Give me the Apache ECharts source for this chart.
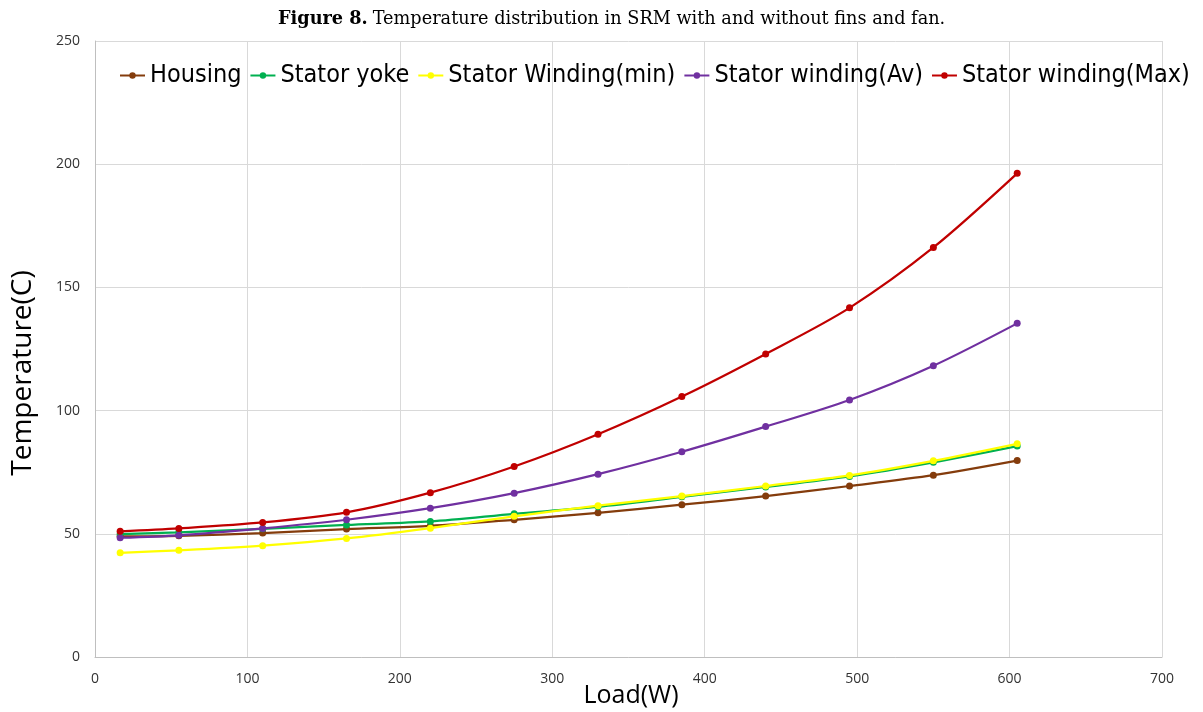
<!DOCTYPE html>
<html>
<head>
<meta charset="utf-8">
<script src="https://cdn.jsdelivr.net/npm/echarts@6/dist/echarts.min.js"></script>
<style>
html,body{margin:0;padding:0;background:#fff;overflow:hidden;}
#chart{width:1203px;height:712px;}
</style>
</head>
<body>
<div id="chart"></div>
<script>
var loads = [16.5, 55, 110, 165, 220, 275, 330, 385, 440, 495, 550, 605];
var housing = [49.0, 49.2, 50.3, 51.9, 53.2, 55.7, 58.5, 61.8, 65.3, 69.4, 73.8, 79.7];
var statorYoke = [49.9, 50.6, 52.0, 53.6, 55.0, 58.1, 61.0, 65.0, 69.0, 73.3, 79.0, 85.6];
var windingMin = [42.3, 43.3, 45.2, 48.1, 52.3, 57.1, 61.4, 65.3, 69.4, 73.7, 79.6, 86.5];
var windingAv = [48.4, 49.4, 52.2, 55.7, 60.4, 66.5, 74.2, 83.3, 93.5, 104.3, 118.2, 135.4];
var windingMax = [51.0, 52.2, 54.6, 58.7, 66.7, 77.3, 90.4, 105.7, 123.0, 141.7, 166.2, 196.3];
var xTicks = [0, 100, 200, 300, 400, 500, 600, 700];
var yTicks = [0, 50, 100, 150, 200, 250];

var seriesNames = ['Housing', 'Stator yoke', 'Stator Winding(min)', 'Stator winding(Av)', 'Stator winding(Max)'];
var seriesData = [housing, statorYoke, windingMin, windingAv, windingMax];
var colors = ['#843c0c', '#00b050', '#ffff00', '#7030a0', '#c00000'];

function pairs(arr) {
  return loads.map(function (x, i) { return [x, arr[i]]; });
}

var chart = echarts.init(document.getElementById('chart'));
var legendFont = "'Liberation Sans Narrow', 'DejaVu Sans Condensed', 'Roboto', sans-serif";
var serifFont = "'DejaVu Serif', 'Liberation Serif', serif";
var option = {
  animation: false,
  backgroundColor: '#ffffff',
  title: {
    text: '{b|Figure 8.} {r|Temperature distribution in SRM with and without fins and fan.}',
    left: 273,
    top: 5,
    textStyle: {
      fontWeight: 'normal',
      rich: {
        b: { fontFamily: serifFont, fontWeight: 'bold', fontSize: 17.7, color: '#000' },
        r: { fontFamily: serifFont, fontWeight: 'normal', fontSize: 17.7, color: '#000' }
      }
    }
  },
  legend: {
    top: 58,
    left: 114,
    itemGap: 8,
    itemWidth: 25,
    itemHeight: 8,
    textStyle: { fontFamily: legendFont, fontSize: 25, color: '#000' },
    data: seriesNames
  },
  graphic: [{
    type: 'text',
    x: 23,
    y: 373,
    rotation: Math.PI / 2,
    style: {
      text: 'Temperature(C)',
      font: "28px 'Open Sans', sans-serif",
      fill: '#000',
      align: 'center',
      verticalAlign: 'middle'
    }
  }, {
    type: 'text',
    x: 631,
    y: 696,
    style: {
      text: 'Load(W)',
      font: "25px 'Open Sans', sans-serif",
      fill: '#000',
      align: 'center',
      verticalAlign: 'middle'
    }
  }],
  grid: { left: 95, right: 41, top: 41, bottom: 55, containLabel: false, outerBoundsMode: 'none' },
  xAxis: {
    type: 'value',
    min: 0, max: 700, interval: 100,
    axisLine: { show: true, lineStyle: { color: '#bfbfbf', width: 1 } },
    axisTick: { show: false },
    axisLabel: { fontFamily: "'Open Sans', sans-serif", fontSize: 14, color: '#333', margin: 15,
      formatter: function (v) { return xTicks.indexOf(v) >= 0 ? String(v) : ''; } },
    splitLine: { show: true, lineStyle: { color: '#d9d9d9', width: 1 } }
  },
  yAxis: {
    type: 'value',
    min: 0, max: 250, interval: 50,
    axisLine: { show: true, lineStyle: { color: '#bfbfbf', width: 1 } },
    axisTick: { show: false },
    axisLabel: { fontFamily: "'Open Sans', sans-serif", fontSize: 14, color: '#333', margin: 15,
      formatter: function (v) { return yTicks.indexOf(v) >= 0 ? String(v) : ''; } },
    splitLine: { show: true, lineStyle: { color: '#d9d9d9', width: 1 } }
  },
  series: seriesNames.map(function (name, i) {
    return {
      name: name,
      type: 'line',
      smooth: 0.3,
      data: pairs(seriesData[i]),
      symbol: 'circle',
      symbolSize: 7,
      lineStyle: { color: colors[i], width: 2.25 },
      itemStyle: { color: colors[i] },
      z: 2 + i
    };
  })
};
chart.setOption(option);
</script>
</body>
</html>
